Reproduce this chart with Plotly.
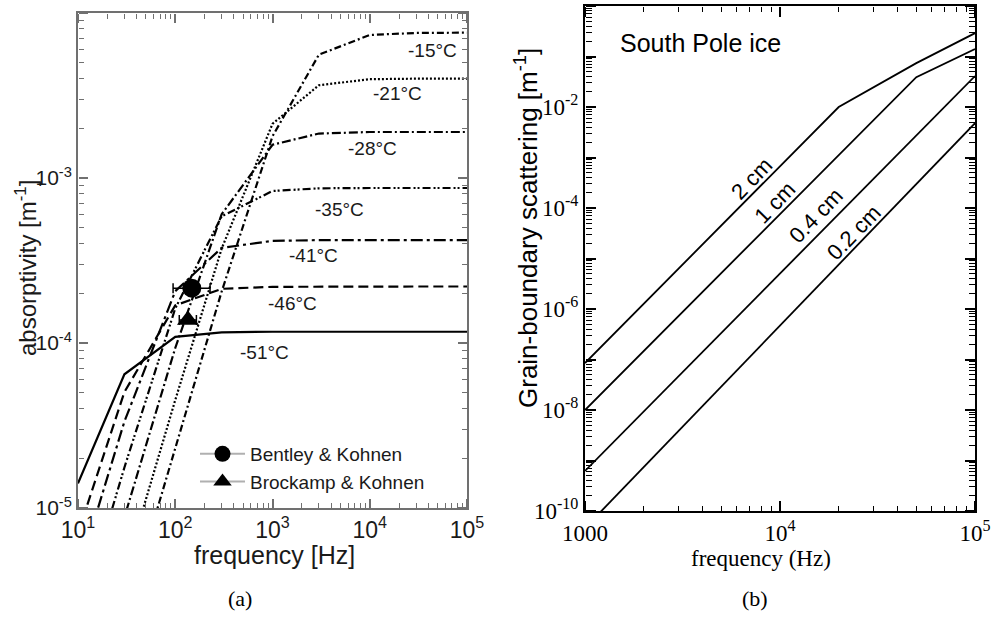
import plotly.graph_objects as go

W, H = 993, 623

# ---------------- (a) absorptivity of ice vs frequency ----------------
freq_a = [10, 30, 100, 300, 1000, 3000, 10000, 30000, 100000]
absorp_m15 = [2.35e-7, 2.11e-6, 2.34e-5, 2.05e-4, 1.79e-3, 5.59e-3, 7.36e-3, 7.57e-3, 7.60e-3]
absorp_m21 = [4.57e-7, 4.10e-6, 4.51e-5, 3.73e-4, 2.13e-3, 3.65e-3, 3.97e-3, 4.00e-3, 4.00e-3]
absorp_m28 = [9.80e-7, 8.79e-6, 9.33e-5, 6.03e-4, 1.59e-3, 1.86e-3, 1.90e-3, 1.90e-3, 1.90e-3]
absorp_m35 = [1.99e-6, 1.76e-5, 1.62e-4, 5.86e-4, 8.34e-4, 8.66e-4, 8.70e-4, 8.70e-4, 8.70e-4]
absorp_m41 = [4.00e-6, 3.34e-5, 2.06e-4, 3.77e-4, 4.16e-4, 4.20e-4, 4.20e-4, 4.20e-4, 4.20e-4]
absorp_m46 = [7.04e-6, 5.04e-5, 1.69e-4, 2.13e-4, 2.19e-4, 2.20e-4, 2.20e-4, 2.20e-4, 2.20e-4]
absorp_m51 = [1.41e-5, 6.46e-5, 1.09e-4, 1.16e-4, 1.17e-4, 1.17e-4, 1.17e-4, 1.17e-4, 1.17e-4]

temp_labels = ["-15°C", "-21°C", "-28°C", "-35°C", "-41°C", "-46°C", "-51°C"]

# field measurements: frequency [Hz], absorptivity [1/m], frequency span
bentley_f, bentley_a = [148], [2.15e-4]
bentley_lo, bentley_hi = [95], [228]
brockamp_f, brockamp_a = [135], [1.38e-4]
brockamp_lo, brockamp_hi = [110], [165]

# ---------------- (b) grain-boundary scattering ----------------
freq_2cm = [1000, 20000, 50000, 100000]
scat_2cm = [8.5e-8, 1.0e-2, 7.4e-2, 0.29]
freq_1cm = [1000, 50000, 100000]
scat_1cm = [1.0e-8, 3.9e-2, 0.14]
freq_04cm = [1000, 100000]
scat_04cm = [6.2e-10, 4.1e-2]
freq_02cm = [1000, 100000]
scat_02cm = [4.6e-11, 4.8e-3]

SANS = "Liberation Sans, Arial, sans-serif"
SERIF = "Liberation Serif, Times New Roman, serif"

fig = go.Figure()

curve_styles = [
    (absorp_m15, "7px,3px,2px,3px"),
    (absorp_m21, "2px,2px"),
    (absorp_m28, "9px,3px,2px,3px"),
    (absorp_m35, "8px,3px,2px,2px,2px,3px"),
    (absorp_m41, "12px,4px,3px,4px"),
    (absorp_m46, "10px,5px"),
    (absorp_m51, "solid"),
]
for vals, dash in curve_styles:
    fig.add_trace(go.Scatter(
        x=freq_a, y=vals, mode="lines", xaxis="x", yaxis="y",
        line=dict(color="black", width=2.2, dash=dash),
        showlegend=False, hoverinfo="skip"))

fig.add_trace(go.Scatter(
    x=bentley_f, y=bentley_a, mode="lines+markers", xaxis="x", yaxis="y",
    name="Bentley & Kohnen", legendgroup="bk",
    marker=dict(symbol="circle", size=19, color="black"),
    line=dict(color="#b0b0b0", width=2),
    error_x=dict(type="data", symmetric=False,
                 array=[h - f for h, f in zip(bentley_hi, bentley_f)],
                 arrayminus=[f - l for l, f in zip(bentley_lo, bentley_f)],
                 color="black", thickness=1.5, width=5)))
fig.add_trace(go.Scatter(
    x=brockamp_f, y=brockamp_a, mode="lines+markers", xaxis="x", yaxis="y",
    name="Brockamp & Kohnen", legendgroup="brk",
    marker=dict(symbol="triangle-up", size=19, color="black"),
    line=dict(color="#b0b0b0", width=2),
    error_x=dict(type="data", symmetric=False,
                 array=[h - f for h, f in zip(brockamp_hi, brockamp_f)],
                 arrayminus=[f - l for l, f in zip(brockamp_lo, brockamp_f)],
                 color="black", thickness=1.5, width=5)))

for fx, fy in [(freq_2cm, scat_2cm), (freq_1cm, scat_1cm),
               (freq_04cm, scat_04cm), (freq_02cm, scat_02cm)]:
    fig.add_trace(go.Scatter(
        x=fx, y=fy, mode="lines", xaxis="x2", yaxis="y2",
        line=dict(color="black", width=1.8),
        showlegend=False, hoverinfo="skip"))


def log_axis(domain, rng, tickvals, ticktext, font, color, lw, anchor):
    return dict(
        type="log", domain=domain, range=list(rng), anchor=anchor,
        automargin=False, showgrid=False, zeroline=False,
        showline=True, linecolor=color, linewidth=lw, mirror=True,
        ticks="", tickmode="array", tickvals=tickvals, ticktext=ticktext,
        tickfont=font,
    )


def decade_vals(lo, hi):
    return [10.0 ** e for e in range(lo, hi + 1)]


def between_vals(lo, hi):
    return [m * 10.0 ** e for e in range(lo, hi) for m in range(2, 10)]


fa_x = [10 ** e for e in range(1, 6)]
fa_y = [10.0 ** e for e in range(-5, -1)]
fb_x = [10 ** e for e in range(3, 6)]
fb_y = [10.0 ** e for e in range(-10, 1)]

GRAY = "#707070"
left_font = dict(family=SANS, size=21, color="#1a1a1a")
right_font = dict(family=SERIF, size=23, color="black")

dom_xa, dom_ya = [78 / W, 467 / W], [1 - 508 / H, 1 - 13 / H]
dom_xb, dom_yb = [585 / W, 975 / W], [1 - 511 / H, 1 - 6 / H]

layout_axes = dict(
    xaxis=log_axis(dom_xa, (1, 5), fa_x,
                   ["10<sup>1</sup>", "10<sup>2</sup>", "10<sup>3</sup>", "10<sup>4</sup>", "10<sup>5</sup>"],
                   dict(family=SANS, size=23, color="#1a1a1a"), GRAY, 1.8, "y"),
    yaxis=log_axis(dom_ya, (-5, -2), fa_y,
                   ["10<sup>-5</sup>", "10<sup>-4</sup>", "10<sup>-3</sup>", "10<sup>-2</sup>"],
                   left_font, GRAY, 1.8, "x"),
    xaxis2=log_axis(dom_xb, (3, 5), fb_x,
                    ["1000", "10<sup>4</sup>", "10<sup>5</sup>"],
                    right_font, "black", 2, "y2"),
    yaxis2=log_axis(dom_yb, (-10, 0), fb_y,
                    ["10<sup>-10</sup>", "", "10<sup>-8</sup>", "", "10<sup>-6</sup>", "",
                     "10<sup>-4</sup>", "", "10<sup>-2</sup>", "", "1"],
                    right_font, "black", 2, "x2"),
)

# Tick-only axes: an axis placed on the opposite edge with outward ticks
# gives inward-pointing ticks on every side of the frame.
panels = [
    ("x", "y", dom_xa, dom_ya, (1, 5), (-5, -2), GRAY, (9, 5), (9, 5)),
    ("x2", "y2", dom_xb, dom_yb, (3, 5), (-10, 0), "black", (10, 5), (10, 6)),
]
n = 3
for bx, by, dx, dy, xr, yr, col, xlen, ylen in panels:
    for kind in ("major", "minor"):
        if kind == "major":
            xv, yv = decade_vals(*xr), decade_vals(*yr)
            xl, yl, wd = xlen[0], ylen[0], 1.5
        else:
            xv, yv = between_vals(*xr), between_vals(*yr)
            xl, yl, wd = xlen[1], ylen[1], 1.1
        for xside, xpos, yside, ypos in (("top", dy[0], "right", dx[0]),
                                         ("bottom", dy[1], "left", dx[1])):
            common = dict(type="log", anchor="free", showgrid=False, zeroline=False,
                          showline=False, automargin=False, showticklabels=False,
                          ticks="outside", tickcolor=col, tickwidth=wd,
                          tickmode="array")
            layout_axes["xaxis%d" % n] = dict(common, overlaying=bx, side=xside,
                                              position=xpos, range=list(xr),
                                              ticklen=xl, tickvals=xv)
            layout_axes["yaxis%d" % n] = dict(common, overlaying=by, side=yside,
                                              position=ypos, range=list(yr),
                                              ticklen=yl, tickvals=yv)
            fig.add_trace(go.Scatter(x=[], y=[], xaxis="x%d" % n, yaxis="y%d" % n,
                                     mode="lines", showlegend=False, hoverinfo="skip"))
            n += 1

fig.update_layout(
    width=W, height=H, margin=dict(l=0, r=0, t=0, b=0, autoexpand=False),
    paper_bgcolor="white", plot_bgcolor="white",
    showlegend=True,
    legend=dict(x=195 / W, y=1 - 435 / H, xanchor="left", yanchor="top",
                bgcolor="rgba(0,0,0,0)", borderwidth=0,
                font=dict(family=SANS, size=19, color="#1a1a1a"),
                traceorder="grouped", tracegroupgap=0, itemwidth=45),
    **layout_axes,
)

annotations = []

# temperature labels on the plateaus (log10 coordinates)
temp_pos = [(4.65, -2.23), (4.29, -2.49), (4.03, -2.82), (3.69, -3.19),
            (3.42, -3.47), (3.21, -3.76), (2.92, -4.06)]
for txt, (lx, ly) in zip(temp_labels, temp_pos):
    annotations.append(dict(x=lx, y=ly, xref="x", yref="y", text=txt, showarrow=False,
                            font=dict(family=SANS, size=19, color="#1a1a1a")))

# grain-size labels along the scattering lines
size_labels = ["2 cm", "1 cm", "0.4 cm", "0.2 cm"]
size_pos = [(3.856, -3.42), (3.974, -3.89), (4.185, -4.15), (4.379, -4.49)]
for txt, (lx, ly) in zip(size_labels, size_pos):
    annotations.append(dict(x=lx, y=ly, xref="x2", yref="y2", text=txt, showarrow=False,
                            textangle=-46, font=dict(family=SANS, size=22, color="black")))


def page_text(px, py, txt, font, angle=0, xanchor="center"):
    return dict(x=px / W, y=1 - py / H, xref="paper", yref="paper",
                xanchor=xanchor, yanchor="middle", textangle=angle,
                text=txt, showarrow=False, font=font)


annotations += [
    page_text(618, 43, "South Pole ice", dict(family=SANS, size=25, color="black"), xanchor="left"),
    page_text(274, 555, "frequency [Hz]", dict(family=SANS, size=25, color="#1a1a1a")),
    page_text(26, 268, "absorptivity [m<sup>-1</sup>]", dict(family=SANS, size=24, color="#1a1a1a"), -90),
    page_text(761, 558, "frequency (Hz)", dict(family=SERIF, size=23, color="black")),
    page_text(527, 228, "Grain-boundary scattering [m<sup>-1</sup>]",
              dict(family=SANS, size=26, color="black"), -90),
    page_text(240, 598, "(a)", dict(family=SERIF, size=22, color="black")),
    page_text(755, 598, "(b)", dict(family=SERIF, size=22, color="black")),
]
fig.update_layout(annotations=annotations)

fig.write_html("out.html")
